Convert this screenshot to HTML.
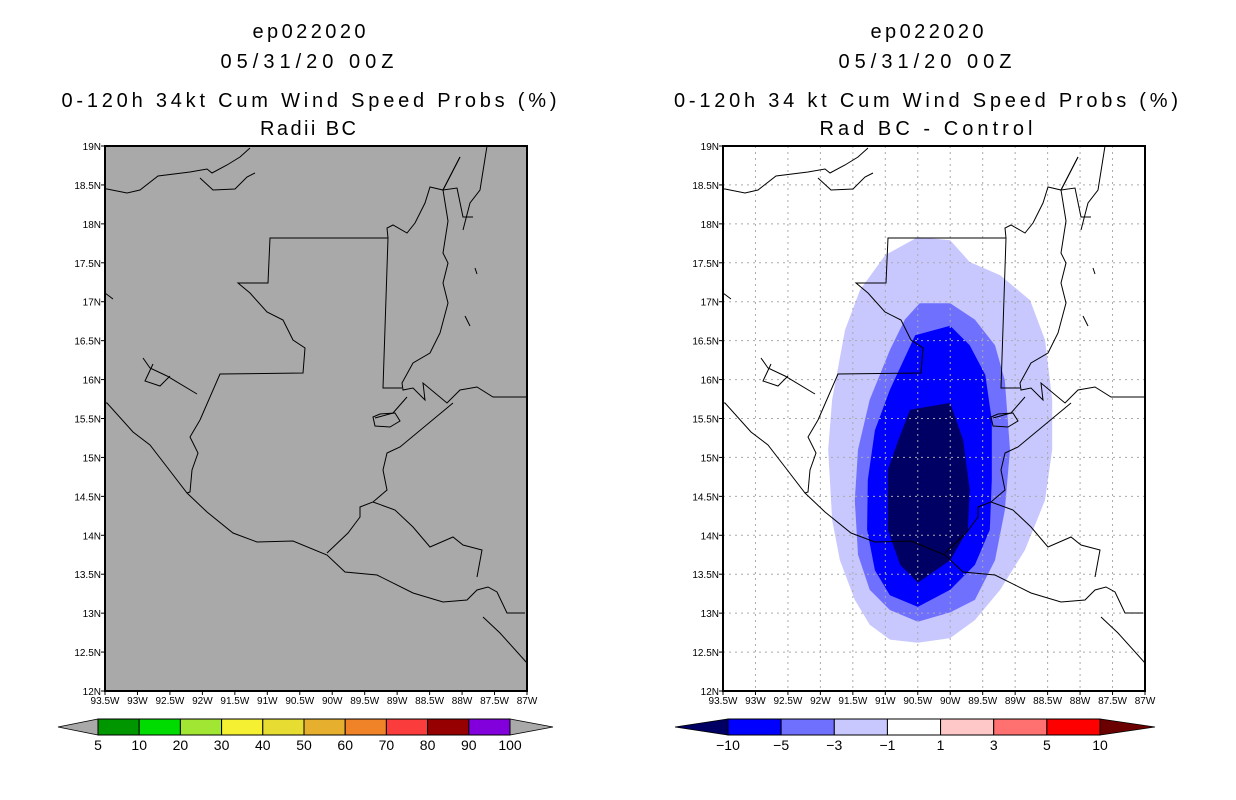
<!DOCTYPE html>
<html><head><meta charset="utf-8"><style>
body{margin:0;background:#fff}
svg{display:block;font-family:"Liberation Sans",sans-serif}
</style></head><body>
<svg id="s" width="1236" height="800" viewBox="0 0 1236 800">
<defs>
<g id="coast" fill="none" stroke="#000" stroke-width="1">
<path d="M0,43 L2,43 22,47 35,44 53,30 85,26 102,23 107,27 122,19 135,11 145,2"/>
<path d="M95,32 L108,44 130,43 142,31 150,27"/>
<path d="M382,0 L375,44 365,57 358,84"/>
<path d="M355,11 L338,44 325,41 320,57 310,77 302,87 288,79 282,82 283,92"/>
<path d="M355,11 L338,44 352,42 358,71 368,71"/>
<path d="M283,92 L165,92 163,137 133,137 145,147 162,166 178,174 188,194 200,202 198,227 115,228 95,274"/>
<path d="M283,92 L278,242 297,242"/>
<path d="M338,44 L343,75 338,107 343,117 338,137 343,157 335,187 325,207 308,217 297,237 298,244 308,242 320,254 318,237 342,257 355,244 372,241 388,251 422,251"/>
<path d="M302,251 L288,267 270,272"/>
<path d="M268,271 L275,268 290,267 295,275 285,281 270,280 Z"/>
<path d="M0,257 L2,257 28,286 45,299 62,321 82,347 102,366 128,387 152,396 188,395 222,409 240,426 272,429 308,447 338,456 362,454 372,444 383,441 392,446 402,467 420,467"/>
<path d="M378,471 L395,487 422,517"/>
<path d="M95,274 L85,291 93,307 87,324 85,346 82,347"/>
<path d="M348,257 L295,301 282,307 278,324 282,344 268,356 255,361 255,371 243,387 222,407"/>
<path d="M268,356 L290,364 308,381 325,401 348,391 358,399 377,404 372,431"/>
<path d="M38,212 L45,222 62,230 92,248 M48,218 L40,235 55,240 65,230"/>
<path d="M0,147 L8,153 M360,170 L365,180 M370,122 L372,128"/>
</g>
</defs>
<g id="panels"></g>
<g font-size="20" text-anchor="middle" fill="#000">
<text x="309" y="38" textLength="113" lengthAdjust="spacing">ep022020</text>
<text x="307" y="68" textLength="173" lengthAdjust="spacing">05/31/20 00Z</text>
<text x="309" y="107" textLength="495" lengthAdjust="spacing">0-120h 34kt Cum Wind Speed Probs (%)</text>
<text x="308" y="135" textLength="96" lengthAdjust="spacing">Radii BC</text>
<text x="927" y="38" textLength="113" lengthAdjust="spacing">ep022020</text>
<text x="925" y="68" textLength="173" lengthAdjust="spacing">05/31/20 00Z</text>
<text x="926" y="107" textLength="504" lengthAdjust="spacing">0-120h 34 kt Cum Wind Speed Probs (%)</text>
<text x="926" y="135" textLength="213" lengthAdjust="spacing">Rad BC - Control</text>
</g>
<g id="cbars"></g>
</svg>
<script>
const lonTicks=[-93.5,-93,-92.5,-92,-91.5,-91,-90.5,-90,-89.5,-89,-88.5,-88,-87.5,-87];
const lonLabels=["93.5W","93W","92.5W","92W","91.5W","91W","90.5W","90W","89.5W","89W","88.5W","88W","87.5W","87W"];
const latTicks=[12,12.5,13,13.5,14,14.5,15,15.5,16,16.5,17,17.5,18,18.5,19];
const latLabels=["12N","12.5N","13N","13.5N","14N","14.5N","15N","15.5N","16N","16.5N","17N","17.5N","18N","18.5N","19N"];
const lightLon=[-90.5,-90.0,-89.7,-89.23,-88.77,-88.54,-88.43,-88.43,-88.54,-88.85,-89.23,-89.62,-90.0,-90.5,-90.93,-91.24,-91.47,-91.7,-91.82,-91.88,-91.82,-91.62,-91.39,-91.0];
const lightLat=[17.83,17.79,17.51,17.34,17.02,16.51,15.74,15.10,14.45,13.81,13.30,12.91,12.68,12.62,12.66,12.85,13.17,13.68,14.20,15.10,15.74,16.64,17.15,17.60];
const medLon=[-90.47,-90.0,-89.62,-89.31,-89.16,-89.08,-89.16,-89.31,-89.62,-90.0,-90.5,-90.93,-91.24,-91.42,-91.47,-91.42,-91.24,-90.93,-90.7];
const medLat=[16.98,16.98,16.77,16.44,15.99,15.10,14.32,13.68,13.17,13.01,12.89,13.04,13.30,13.75,14.45,15.10,15.74,16.38,16.77];
const blueLon=[-90.0,-89.7,-89.46,-89.36,-89.36,-89.39,-89.62,-90.0,-90.5,-90.93,-91.16,-91.28,-91.27,-91.16,-90.93,-90.54];
const blueLat=[16.69,16.44,16.06,15.48,14.71,14.07,13.62,13.30,13.08,13.23,13.55,14.07,14.71,15.35,15.87,16.57];
const darkLon=[-90.5,-90.0,-89.8,-89.7,-89.73,-90.0,-90.5,-90.77,-90.96,-90.96,-90.8,-90.62];
const darkLat=[15.63,15.70,15.22,14.58,14.07,13.68,13.39,13.62,14.07,14.84,15.22,15.61];
const leftCbLabels=["5","10","20","30","40","50","60","70","80","90","100"];
const leftCbColors=["#009600","#00dc00","#a0e632","#f5f032","#e6dc32","#e6af2d","#f08228","#fa3c3c","#960000","#8200dc"];
const rightCbLabels=["-10","-5","-3","-1","1","3","5","10"];
const rightCbColors=["#0000ff","#7070ff","#c8c8ff","#ffffff","#ffc8c8","#ff7070","#ff0000"];

const NS="http://www.w3.org/2000/svg";
function mk(tag,attrs,parent){const e=document.createElementNS(NS,tag);for(const k in attrs)e.setAttribute(k,attrs[k]);parent.appendChild(e);return e;}
const W=422,H=545,LON0=-93.5,LON1=-87,LAT0=12,LAT1=19;
function xs(lon){return (lon-LON0)/(LON1-LON0)*W;}
function ys(lat){return (LAT1-lat)/(LAT1-LAT0)*H;}
const panels=document.getElementById('panels');
function panel(ox,bg,name,contours,grid){
  const g=mk('g',{transform:`translate(${ox},146)`},panels);
  
  
  const r=mk('rect',{x:0,y:0,width:W,height:H,fill:bg},g);
  
  
  contours.forEach(c=>{
    const pts=c.lon.map((v,i)=>xs(v).toFixed(1)+','+ys(c.lat[i]).toFixed(1)).join(' ');
    const p=mk('polygon',{points:pts,fill:c.color},g);
    
    
  });
  if(grid){
    lonTicks.slice(1,-1).forEach(l=>{const ln=mk('line',{x1:xs(l),x2:xs(l),y1:0,y2:H,stroke:'#aaa','stroke-dasharray':'2,4','stroke-width':1},g);
      
      });
    latTicks.slice(1,-1).forEach(l=>{const ln=mk('line',{x1:0,x2:W,y1:ys(l),y2:ys(l),stroke:'#aaa','stroke-dasharray':'2,4','stroke-width':1},g);
      
      });
  }
  const u=mk('use',{href:'#coast'},g);
  
  
  const b=mk('rect',{x:0,y:0,width:W,height:H,fill:'none',stroke:'#000','stroke-width':2},g);
  
  
  lonTicks.forEach((l,i)=>{
    mk('line',{x1:xs(l),x2:xs(l),y1:H,y2:H+4,stroke:'#000'},g);
    const t=mk('text',{x:xs(l),y:H+13,'font-size':10,'text-anchor':'middle'},g);
    t.textContent=lonLabels[i];
    
    
  });
  latTicks.forEach((l,i)=>{
    mk('line',{x1:-4,x2:0,y1:ys(l),y2:ys(l),stroke:'#000'},g);
    const t=mk('text',{x:-4,y:ys(l)+4,'font-size':10,'text-anchor':'end'},g);
    t.textContent=latLabels[i];
    
    
  });
}
panel(105,'#a9a9a9','left-map',[],false);
panel(723,'#ffffff','right-map',[
 {lon:lightLon,lat:lightLat,color:'#c8c8ff',name:'contour-minus1'},
 {lon:medLon,lat:medLat,color:'#7070ff',name:'contour-minus3'},
 {lon:blueLon,lat:blueLat,color:'#0000ff',name:'contour-minus5'},
 {lon:darkLon,lat:darkLat,color:'#000064',name:'contour-minus10'}],true);

const cb=document.getElementById('cbars');
function colorbar(x0,x1,tipL,tipR,colors,labels,lc,rc,name){
  const g=mk('g',{},cb);
  
  
  const y0=719,y1=735,ym=727,bw=(x1-x0)/colors.length;
  const l=mk('polygon',{points:`${tipL},${ym} ${x0},${y0} ${x0},${y1}`,fill:lc,stroke:'#000','stroke-width':0.8},g);
  
  
  const r=mk('polygon',{points:`${tipR},${ym} ${x1},${y0} ${x1},${y1}`,fill:rc,stroke:'#000','stroke-width':0.8},g);
  
  
  colors.forEach((c,i)=>{
    const b=mk('rect',{x:x0+i*bw,y:y0,width:bw,height:y1-y0,fill:c,stroke:'#000','stroke-width':1},g);
    
    
  });
  labels.forEach((s,i)=>{
    const t=mk('text',{x:x0+i*bw,y:750,'font-size':14,'text-anchor':'middle'},g);
    t.textContent=s.replace('-','\u2212');
    
    
  });
}
colorbar(98,510,58,553,leftCbColors,leftCbLabels,'#a9a9a9','#a9a9a9','left-colorbar');
colorbar(728,1100,675,1155,rightCbColors,rightCbLabels,'#000064','#6b0000','right-colorbar');
</script>
</body></html>
